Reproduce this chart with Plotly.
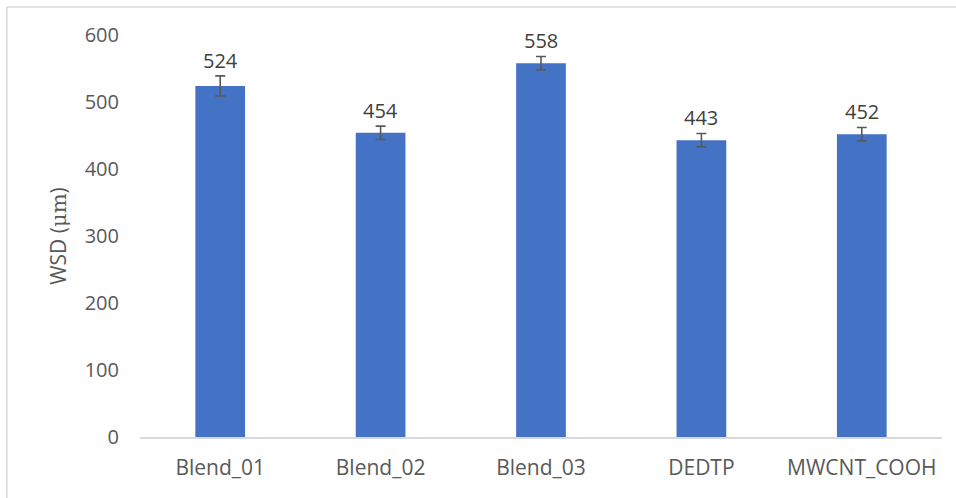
import plotly.graph_objects as go

# Wear scar diameter per lubricant sample
categories = ["Blend_01", "Blend_02", "Blend_03", "DEDTP", "MWCNT_COOH"]
wsd_values = [524, 454, 558, 443, 452]
wsd_errors = [15, 10, 10, 10, 10]
y_ticks = [0, 100, 200, 300, 400, 500, 600]

BAR_COLOR = "#4472C4"
TEXT_COLOR = "#595959"
LABEL_COLOR = "#404040"
FONT = "Open Sans, Noto Sans, sans-serif"

fig = go.Figure()

fig.add_trace(go.Bar(
    x=categories,
    y=wsd_values,
    marker=dict(color=BAR_COLOR, line=dict(width=0)),
    error_y=dict(type="data", array=wsd_errors, visible=True,
                 color="#595959", thickness=1.6, width=5),
    hoverinfo="x+y",
))

# value labels sitting above each error bar
for cat, v, e in zip(categories, wsd_values, wsd_errors):
    fig.add_annotation(
        x=cat, y=v + e, text=str(v),
        showarrow=False, yanchor="bottom", yshift=0,
        font=dict(family=FONT, size=20, color=LABEL_COLOR),
    )

fig.update_layout(
    width=956, height=498,
    margin=dict(l=140, r=14, t=35, b=61),
    paper_bgcolor="white",
    plot_bgcolor="white",
    showlegend=False,
    bargap=0.69,
    font=dict(family=FONT, color=TEXT_COLOR),
    xaxis=dict(
        showgrid=False,
        showline=True, linecolor="#D9D9D9", linewidth=1.5,
        ticks="",
        tickfont=dict(family=FONT, size=21, color=TEXT_COLOR),
        ticklabelstandoff=11,
    ),
    yaxis=dict(
        range=[0, 600],
        tickvals=y_ticks,
        showgrid=False, zeroline=False, showline=False,
        ticks="",
        tickfont=dict(family=FONT, size=20, color=TEXT_COLOR),
        ticklabelstandoff=20,
        title=dict(
            text="WSD (<span style=\"font-family:'DejaVu Serif'\">μm</span>)",
            font=dict(family=FONT, size=21, color=TEXT_COLOR),
            standoff=12,
        ),
    ),
    shapes=[
        # outer chart frame (top and left edges)
        dict(type="line", xref="paper", yref="paper",
             x0=-0.166, x1=1.2, y0=1.0697, y1=1.0697,
             line=dict(color="#D9D9D9", width=1.5)),
        dict(type="line", xref="paper", yref="paper",
             x0=-0.166, x1=-0.166, y0=1.0697, y1=-0.3,
             line=dict(color="#D9D9D9", width=1.5)),
    ],
)

fig.write_html("out.html")
